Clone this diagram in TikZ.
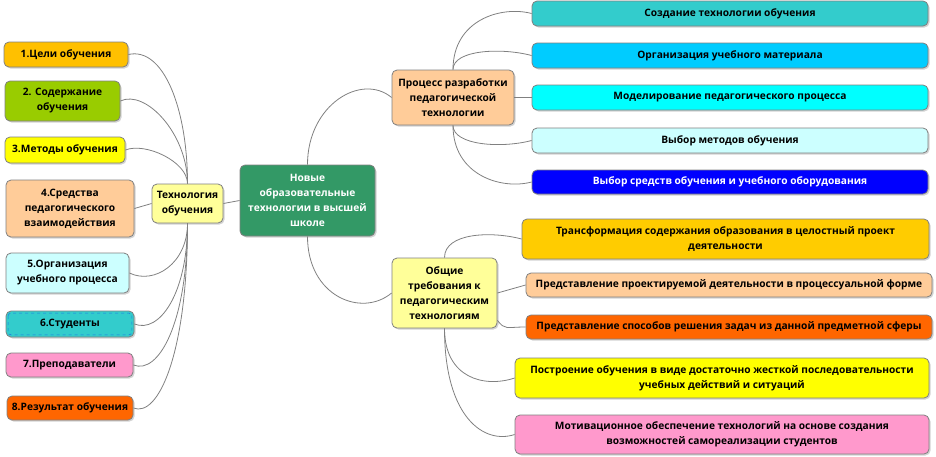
\documentclass[tikz,border=0pt]{standalone}
\usepackage{fontspec}
\setmainfont{Open Sans}
\usetikzlibrary{shadows}
\definecolor{linec}{HTML}{808080}
\definecolor{cGold}{HTML}{FFC000}
\definecolor{cGold2}{HTML}{FFCC00}
\definecolor{cGreen}{HTML}{99CC00}
\definecolor{cYellow}{HTML}{FFFF00}
\definecolor{cPeach}{HTML}{FFCC99}
\definecolor{cLYellow}{HTML}{FFFF99}
\definecolor{cLCyan}{HTML}{CCFFFF}
\definecolor{cTeal}{HTML}{33CCCC}
\definecolor{cPink}{HTML}{FF99CC}
\definecolor{cOrange}{HTML}{FF6600}
\definecolor{cDGreen}{HTML}{339966}
\definecolor{cSky}{HTML}{00CCFF}
\definecolor{cCyan}{HTML}{00FFFF}
\definecolor{cBlue}{HTML}{0000FF}
\begin{document}
\begin{tikzpicture}[x=1pt,y=-1pt,
  box/.style={draw=linec, line width=0.8pt, rounded corners=5pt, align=center,
    font=\fontsize{10.2}{15}\selectfont\bfseries, inner sep=0pt,
    drop shadow={opacity=0.35, shadow xshift=1.5pt, shadow yshift=-1.5pt}},
  link/.style={draw=linec, line width=0.8pt}]
\useasboundingbox (0,0) rectangle (936,456);

% left column
\node[box, fill=cGold, minimum width=124pt, minimum height=25pt] (n1) at (66,54.5) {1.Цели обучения};
\node[box, fill=cGreen, minimum width=115pt, minimum height=40pt] (n2) at (62.5,101) {2. Содержание\\обучения};
\node[box, fill=cYellow, minimum width=120pt, minimum height=26pt] (n3) at (65,150) {3.Методы обучения};
\node[box, fill=cPeach, minimum width=128pt, minimum height=57pt] (n4) at (70,208.5) {4.Средства\\педагогического\\взаимодействия};
\node[box, fill=cLCyan, minimum width=123pt, minimum height=40pt] (n5) at (67.5,273) {5.Организация\\учебного процесса};
\node[box, fill=cTeal, minimum width=128pt, minimum height=26pt] (n6) at (70,324) {6.Студенты};
\draw[dashed, draw=cTeal!60!blue, line width=0.6pt, rounded corners=3pt]
  ([shift={(2.5pt,-2.5pt)}]n6.north west) rectangle ([shift={(-2.5pt,2.5pt)}]n6.south east);
\node[box, fill=cPink, minimum width=127pt, minimum height=24pt] (n7) at (69.5,365) {7.Преподаватели};
\node[box, fill=cOrange, minimum width=126pt, minimum height=24pt] (n8) at (70,408) {8.Результат обучения};

\node[box, fill=cLYellow, minimum width=71pt, minimum height=39pt] (tech) at (187.5,203.5) {Технология\\обучения};
\node[box, fill=cDGreen, text=white, minimum width=135pt, minimum height=71pt] (center) at (307.5,200.5) {Новые\\образовательные\\технологии в высшей\\школе};

% process group
\node[box, fill=cPeach, minimum width=122pt, minimum height=55pt] (proc) at (453,97.5) {Процесс разработки\\педагогической\\технологии};
\node[box, fill=cTeal, minimum width=396pt, minimum height=25pt] (p1) at (730,13.5) {Создание технологии обучения};
\node[box, fill=cSky, minimum width=396pt, minimum height=25pt] (p2) at (730,55.5) {Организация учебного материала};
\node[box, fill=cCyan, minimum width=396pt, minimum height=25pt] (p3) at (730,97.5) {Моделирование педагогического процесса};
\node[box, fill=cLCyan, minimum width=396pt, minimum height=25pt] (p4) at (730,140.5) {Выбор методов обучения};
\node[box, fill=cBlue, text=white, minimum width=396pt, minimum height=24pt] (p5) at (730,182) {Выбор средств обучения и учебного оборудования};

% requirements group
\node[box, fill=cLYellow, minimum width=105pt, minimum height=70pt] (req) at (444.5,293) {Общие\\требования к\\педагогическим\\технологиям};
\node[box, fill=cGold2, minimum width=407pt, minimum height=40pt] (r1) at (725.5,239) {Трансформация содержания образования в целостный проект\\деятельности};
\node[box, fill=cPeach, minimum width=406pt, minimum height=24pt] (r2) at (729,285) {Представление проектируемой деятельности в процессуальной форме};
\node[box, fill=cOrange, minimum width=406pt, minimum height=24pt] (r3) at (729,327) {Представление способов решения задач из данной предметной сферы};
\node[box, fill=cYellow, minimum width=414pt, minimum height=40pt] (r4) at (722,378) {Построение обучения в виде достаточно жесткой последовательности\\учебных действий и ситуаций};
\node[box, fill=cPink, minimum width=414pt, minimum height=39pt] (r5) at (722,434.5) {Мотивационное обеспечение технологий на основе создания\\возможностей самореализации студентов};

% connectors: left
\draw[link] (n1.east) .. controls +(35,-8) and +(0,-75) .. (tech.north);
\draw[link] (n2.east) .. controls +(25,-12) and +(0,-50) .. (tech.north);
\draw[link] (n3.east) .. controls +(20,-8) and +(0,-22) .. (tech.north);
\draw[link] (n4.east) -- (tech.west);
\draw[link] (tech.south) .. controls +(0,40) and +(25,12) .. (n5.east);
\draw[link] (tech.south) .. controls +(0,70) and +(25,10) .. (n6.east);
\draw[link] (tech.south) .. controls +(0,100) and +(25,10) .. (n7.east);
\draw[link] (tech.south) .. controls +(0,130) and +(25,10) .. (n8.east);

% center
\draw[link] (tech.east) -- (center.west);
\draw[link] (center.north) .. controls +(0,-60) and +(-30,-25) .. (proc.west);
\draw[link] (center.south) .. controls +(0,60) and +(-30,25) .. (req.west);

% process children
\draw[link] (proc.north) .. controls +(0,-50) and +(-30,-8) .. (p1.west);
\draw[link] (proc.north) .. controls +(0,-20) and +(-30,-8) .. (p2.west);
\draw[link] (proc.east) -- (p3.west);
\draw[link] (proc.south) .. controls +(0,20) and +(-30,8) .. (p4.west);
\draw[link] (proc.south) .. controls +(0,50) and +(-30,8) .. (p5.west);

% requirements children
\draw[link] (req.north) .. controls +(0,-25) and +(-30,-8) .. (r1.west);
\draw[link] (req.east) -- (r2.west);
\draw[link] ([yshift=8pt]req.south east) .. controls +(8,10) and +(-20,0) .. (r3.west);
\draw[link] (req.south) .. controls +(0,50) and +(-30,10) .. (r4.west);
\draw[link] (req.south) .. controls +(0,90) and +(-30,10) .. (r5.west);
\end{tikzpicture}
\end{document}
